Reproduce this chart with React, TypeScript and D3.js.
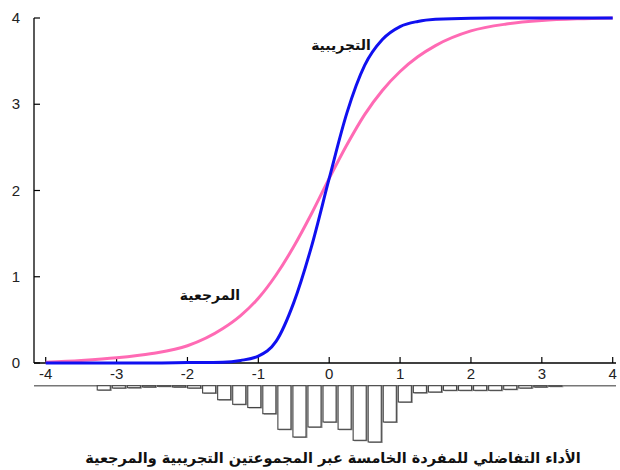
import React from "react";
import * as d3 from "d3";

// Ability grid (theta) where both item curves are sampled
const thetaPoints = [-4, -3.5, -3, -2.5, -2, -1.5, -1.25, -1, -0.75, -0.5, -0.25, 0, 0.25, 0.5, 0.75, 1, 1.25, 1.5, 2, 2.5, 3, 3.5, 4];

// Expected item score, experimental group
const experimentalScores = [0, 0, 0, 0, 0.005, 0.01, 0.03, 0.08, 0.25, 0.7, 1.35, 2.14, 2.9, 3.45, 3.75, 3.9, 3.96, 3.985, 3.998, 4, 4, 4, 4];

// Expected item score, reference group
const referenceScores = [0.01, 0.03, 0.06, 0.11, 0.2, 0.4, 0.55, 0.75, 1.02, 1.35, 1.73, 2.14, 2.53, 2.88, 3.16, 3.38, 3.55, 3.68, 3.85, 3.93, 3.97, 3.99, 4];

// Ability distribution histogram (frequency per bin)
const histStart = -3.28;
const histBinWidth = 0.2124;
const histCounts = [5.3, 3.3, 3, 2.3, 1.6, 2.3, 3.3, 8.3, 15, 19.6, 22.8, 29, 44.6, 52.3, 42.3, 37.3, 44.6, 55.6, 57.3, 37.3, 17.3, 8, 7.3, 5.6, 5.6, 5.6, 5.6, 4.6, 3.3, 2.3, 1.6];

const xTicks = [-4, -3, -2, -1, 0, 1, 2, 3, 4];
const yTicks = [0, 1, 2, 3, 4];

const labelExperimental = "التجريبية";
const labelReference = "المرجعية";
const chartTitle = "الأداء التفاضلي للمفردة الخامسة عبر المجموعتين التجريبية والمرجعية";

const W = 620;
const H = 470;

export default function App() {
  const x = d3.scaleLinear().domain([-4, 4]).range([45.7, 612.7]);
  const y = d3.scaleLinear().domain([0, 4]).range([363, 18]);
  const axisLeft = 34;
  const axisRight = 616;
  const histBase = 385.7;
  const hY = d3.scaleLinear().domain([0, 60]).range([0, 60]);

  const line = d3
    .line<number>()
    .x((_, i) => x(thetaPoints[i]))
    .y((d) => y(d))
    .curve(d3.curveMonotoneX);

  const tickFont = "'Liberation Sans', Arial, sans-serif";
  const arabicFont = "'DejaVu Sans', sans-serif";

  return (
    <svg
      width={W}
      height={H}
      style={{ position: "absolute", left: 0, top: 0, background: "#fff" }}
    >
      {/* y axis */}
      <line x1={axisLeft} x2={axisLeft} y1={y(4)} y2={y(0)} stroke="#000" strokeWidth={1.3} />
      {yTicks.map((t) => (
        <g key={"y" + t}>
          <line x1={axisLeft} x2={axisLeft + 6} y1={y(t)} y2={y(t)} stroke="#000" strokeWidth={1.2} />
          <text x={20} y={y(t) + 5} textAnchor="end" fontSize={15} fontFamily={tickFont} fill="#222">
            {t}
          </text>
        </g>
      ))}

      {/* x axis */}
      <line x1={axisLeft} x2={axisRight} y1={y(0)} y2={y(0)} stroke="#000" strokeWidth={1.3} />
      {xTicks.map((t) => (
        <g key={"x" + t}>
          <line x1={x(t)} x2={x(t)} y1={y(0)} y2={y(0) - 6} stroke="#000" strokeWidth={1.2} />
          <text x={x(t)} y={y(0) + 16} textAnchor="middle" fontSize={15} fontFamily={tickFont} fill="#222">
            {t < 0 ? "-" + Math.abs(t) : t}
          </text>
        </g>
      ))}

      {/* item characteristic curves */}
      <path d={line(referenceScores) || ""} fill="none" stroke="#ff6ab4" strokeWidth={3} />
      <path d={line(experimentalScores) || ""} fill="none" stroke="#1010f0" strokeWidth={3} />

      <text x={341} y={50} textAnchor="middle" fontSize={14} fontWeight="bold" fontFamily={arabicFont} fill="#111">
        {labelExperimental}
      </text>
      <text x={210} y={300} textAnchor="middle" fontSize={14} fontWeight="bold" fontFamily={arabicFont} fill="#111">
        {labelReference}
      </text>

      {/* ability histogram hanging below baseline */}
      <line x1={axisLeft} x2={axisRight} y1={histBase} y2={histBase} stroke="#777" strokeWidth={1.6} />
      {histCounts.map((c, i) => {
        const x0 = x(histStart + i * histBinWidth);
        const x1 = x(histStart + (i + 1) * histBinWidth);
        const h = hY(c);
        return (
          <g key={"b" + i}>
            <rect x={x0 + 1.5} y={histBase} width={x1 - x0 - 1.5} height={h} fill="#999" />
            <rect x={x0 + 0.5} y={histBase} width={x1 - x0 - 2} height={Math.max(h - 1, 0.5)} fill="#fff" stroke="#444" strokeWidth={1.1} />
          </g>
        );
      })}

      <text x={333} y={463} textAnchor="middle" fontSize={14.5} fontWeight="bold" fontFamily={arabicFont} fill="#111">
        {chartTitle}
      </text>
    </svg>
  );
}
